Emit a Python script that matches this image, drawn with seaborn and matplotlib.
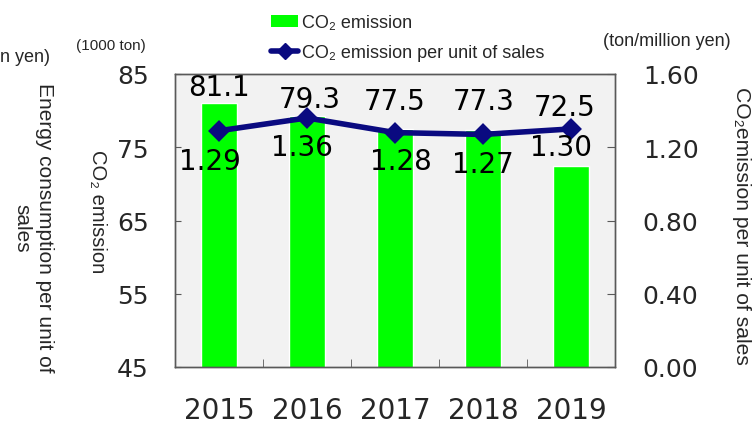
import pandas as pd
import seaborn as sns
import matplotlib.pyplot as plt
from matplotlib.patches import Patch
from matplotlib.lines import Line2D

# chart values
years = ["2015", "2016", "2017", "2018", "2019"]
co2_emission = [81.1, 79.3, 77.5, 77.3, 72.5]
co2_per_sales = [1.29, 1.36, 1.28, 1.27, 1.30]
left_ticks = [45, 55, 65, 75, 85]
right_ticks = [0.0, 0.4, 0.8, 1.2, 1.6]

# label nudges in pixels (dx, dy)
bar_label_dx = [0, 3, 0, 1, -6]
bar_label_dy = [16, 17, 28, 29, 59]
line_label_dx = [-9, -5, 6, 0, -10]
line_label_dy = [-30, -29, -28, -30, -18]

df = pd.DataFrame({"year": years, "co2": co2_emission, "per_sales": co2_per_sales})

sns.set_style("ticks")
plt.rcParams["font.family"] = ["DejaVu Sans"]
sans = ["Liberation Sans", "DejaVu Sans"]

green = "#00ff00"
navy = "#0a0a80"
edge = "#595959"

fig = plt.figure(figsize=(7.53, 4.27), dpi=100)
ax = fig.add_axes([175 / 753, 1 - 368 / 427, 440 / 753, 293 / 427])
ax.set_facecolor("#f2f2f2")

sns.barplot(data=df, x="year", y="co2", color=green, saturation=1,
            width=0.4, errorbar=None, ax=ax)
ax.set_ylim(45, 85)
ax.set_yticks(left_ticks)
ax.set_xlim(-0.5, 4.5)
ax.set_xlabel("")
ax.set_ylabel("")

ax2 = ax.twinx()
sns.pointplot(data=df, x="year", y="per_sales", color=navy, markers="D",
              linestyles="-", errorbar=None, ax=ax2,
              markersize=8, linewidth=4)
ax2.set_ylim(0, 1.6)
ax2.set_yticks(right_ticks)
ax2.set_yticklabels([f"{t:.2f}" for t in right_ticks])
ax2.set_xlim(-0.5, 4.5)
ax2.set_xlabel("")
ax2.set_ylabel("")

# ticks
ax.tick_params(axis="y", direction="in", length=4, pad=19, labelsize=18,
               color=edge)
ax.tick_params(axis="x", which="major", length=0, pad=21, labelsize=20)
ax.set_xticks([0.5, 1.5, 2.5, 3.5], minor=True)
ax.tick_params(axis="x", which="minor", direction="in", length=6, color=edge)
ax2.tick_params(axis="y", direction="in", length=6, pad=20, labelsize=18,
                color=edge)
for a in (ax, ax2):
    for s in a.spines.values():
        s.set_color(edge)
        s.set_linewidth(1)

# value labels
for i, v in enumerate(co2_emission):
    ax.annotate(f"{v:.1f}", (i, v), xytext=(bar_label_dx[i], bar_label_dy[i]),
                textcoords="offset pixels", ha="center", va="center",
                fontsize=20, color="black")
for i, v in enumerate(co2_per_sales):
    ax2.annotate(f"{v:.2f}", (i, v), xytext=(line_label_dx[i], line_label_dy[i]),
                 textcoords="offset pixels", ha="center", va="center",
                 fontsize=20, color="black")

# axis titles and units
fig.text(111 / 753, 1 - 46 / 427, "(1000 ton)", ha="center", va="center",
         fontsize=11, family=sans)
fig.text(97 / 753, 1 - 212 / 427, "CO₂ emission", ha="center", va="center",
         rotation=270, fontsize=14.5, family=sans)
fig.text(33 / 753, 1 - 228 / 427, "Energy consumption per unit of\nsales",
         ha="center", va="center", rotation=270, fontsize=15, family=sans,
         multialignment="center")
fig.text(50 / 753, 1 - 57 / 427, "n yen)", ha="right", va="center",
         fontsize=13, family=sans)
fig.text(667 / 753, 1 - 41 / 427, "(ton/million yen)", ha="center",
         va="center", fontsize=13, family=sans)
fig.text(741 / 753, 1 - 226 / 427, "CO₂emission per unit of sales",
         ha="center", va="center", rotation=270, fontsize=15.2, family=sans)

# legend
handles = [
    Patch(facecolor=green, edgecolor="none"),
    Line2D([0], [0], color=navy, lw=4, marker="D", markersize=8),
]
fig.legend(handles, ["CO₂ emission", "CO₂ emission per unit of sales"],
           loc="upper left", bbox_to_anchor=(264 / 753, 1 - 8 / 427),
           frameon=False, prop={"family": sans, "size": 13},
           handlelength=1.5, handletextpad=0.2, labelspacing=0.7,
           borderaxespad=0)

plt.savefig("out.png", dpi=100)
